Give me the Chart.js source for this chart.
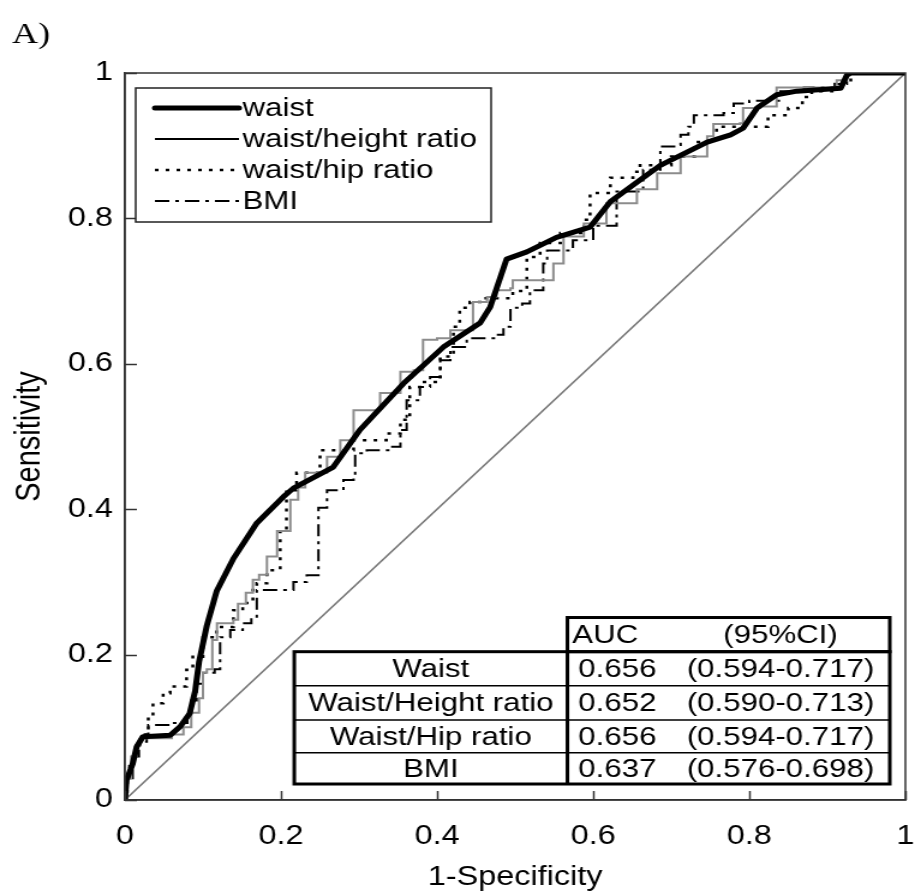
<!DOCTYPE html>
<html>
<head>
<meta charset="utf-8">
<title>ROC curves</title>
<script src="https://cdn.jsdelivr.net/npm/chart.js@4.4.1/dist/chart.umd.min.js"></script>
<style>
    html, body { margin: 0; padding: 0; background: #ffffff; }
    #rocChart { display: block; width: 915px !important; height: 894px !important; }
</style>
</head>
<body>
<canvas id="rocChart" width="762" height="894" style="width:915px;height:894px"></canvas>
<script>
// tick labels
const xTickLabels = ['0', '0.2', '0.4', '0.6', '0.8', '1'];
const yTickLabels = ['0', '0.2', '0.4', '0.6', '0.8', '1'];

// waist (thick line)
const waistFpr = [0, 0.002, 0.01, 0.015, 0.023, 0.058, 0.071, 0.083, 0.09, 0.095, 0.105, 0.1175, 0.139, 0.169, 0.203, 0.216, 0.267, 0.301, 0.357, 0.408, 0.455, 0.468, 0.489, 0.515, 0.553, 0.596, 0.622, 0.669, 0.686, 0.746, 0.776, 0.792, 0.81, 0.835, 0.861, 0.917, 0.925, 0.93, 1];
const waistSens = [0, 0.027, 0.05, 0.073, 0.087, 0.089, 0.101, 0.119, 0.15, 0.19, 0.24, 0.287, 0.332, 0.381, 0.417, 0.429, 0.458, 0.509, 0.573, 0.623, 0.656, 0.678, 0.744, 0.754, 0.774, 0.788, 0.823, 0.86, 0.873, 0.905, 0.915, 0.924, 0.952, 0.97, 0.975, 0.979, 0.997, 1, 1];

// waist/height ratio (grey steps)
const whtrFpr = [0, 0.003, 0.008, 0.015, 0.02, 0.06, 0.075, 0.085, 0.095, 0.1, 0.105, 0.112, 0.118, 0.139, 0.145, 0.155, 0.164, 0.172, 0.182, 0.195, 0.212, 0.222, 0.231, 0.259, 0.276, 0.293, 0.327, 0.353, 0.37, 0.382, 0.4, 0.417, 0.446, 0.464, 0.476, 0.494, 0.497, 0.549, 0.549, 0.562, 0.562, 0.588, 0.617, 0.656, 0.682, 0.682, 0.712, 0.737, 0.746, 0.754, 0.788, 0.792, 0.814, 0.835, 0.835, 0.904, 0.912, 0.925, 1];
const whtrSens = [0, 0.03, 0.06, 0.075, 0.085, 0.09, 0.1, 0.12, 0.14, 0.175, 0.18, 0.22, 0.243, 0.248, 0.27, 0.285, 0.303, 0.31, 0.335, 0.37, 0.413, 0.43, 0.45, 0.472, 0.495, 0.536, 0.56, 0.589, 0.591, 0.633, 0.635, 0.646, 0.685, 0.692, 0.701, 0.704, 0.715, 0.718, 0.738, 0.752, 0.775, 0.793, 0.821, 0.84, 0.85, 0.862, 0.885, 0.885, 0.913, 0.93, 0.931, 0.952, 0.954, 0.97, 0.98, 0.98, 0.99, 1, 1];

// waist/hip ratio (dotted)
const whrFpr = [0, 0.003, 0.006, 0.015, 0.02, 0.03, 0.036, 0.049, 0.058, 0.075, 0.079, 0.087, 0.1, 0.1175, 0.139, 0.151, 0.164, 0.169, 0.182, 0.199, 0.207, 0.22, 0.25, 0.267, 0.293, 0.335, 0.353, 0.365, 0.378, 0.404, 0.421, 0.429, 0.442, 0.455, 0.497, 0.515, 0.515, 0.532, 0.558, 0.588, 0.596, 0.622, 0.651, 0.66, 0.7, 0.73, 0.758, 0.788, 0.824, 0.844, 0.85, 0.865, 0.868, 0.88, 0.91, 0.92, 0.93, 1];
const whrSens = [0, 0.03, 0.055, 0.075, 0.09, 0.115, 0.133, 0.147, 0.156, 0.156, 0.179, 0.197, 0.224, 0.238, 0.261, 0.271, 0.289, 0.298, 0.316, 0.371, 0.426, 0.45, 0.481, 0.481, 0.495, 0.504, 0.523, 0.568, 0.575, 0.61, 0.651, 0.677, 0.685, 0.69, 0.7, 0.711, 0.747, 0.766, 0.78, 0.798, 0.835, 0.856, 0.864, 0.873, 0.885, 0.905, 0.926, 0.926, 0.942, 0.942, 0.952, 0.952, 0.967, 0.975, 0.985, 0.99, 1, 1];

// BMI (dash-dot)
const bmiFpr = [0, 0.003, 0.01, 0.018, 0.028, 0.03, 0.06, 0.08, 0.085, 0.092, 0.1, 0.115, 0.122, 0.135, 0.151, 0.162, 0.169, 0.194, 0.216, 0.233, 0.248, 0.248, 0.259, 0.28, 0.293, 0.295, 0.31, 0.34, 0.353, 0.361, 0.378, 0.391, 0.404, 0.417, 0.438, 0.478, 0.485, 0.494, 0.509, 0.519, 0.536, 0.536, 0.541, 0.574, 0.6, 0.63, 0.664, 0.686, 0.686, 0.707, 0.712, 0.722, 0.729, 0.758, 0.767, 0.78, 0.8, 0.84, 0.87, 0.91, 0.925, 1];
const bmiSens = [0, 0.03, 0.06, 0.08, 0.09, 0.103, 0.106, 0.12, 0.137, 0.16, 0.175, 0.18, 0.224, 0.234, 0.243, 0.252, 0.289, 0.289, 0.3, 0.309, 0.309, 0.402, 0.426, 0.44, 0.447, 0.477, 0.481, 0.486, 0.509, 0.55, 0.568, 0.582, 0.605, 0.623, 0.635, 0.64, 0.651, 0.677, 0.683, 0.701, 0.715, 0.738, 0.756, 0.77, 0.79, 0.837, 0.867, 0.887, 0.899, 0.901, 0.915, 0.926, 0.942, 0.942, 0.945, 0.958, 0.962, 0.975, 0.98, 0.985, 1, 1];

// reference diagonal
const chanceFpr = [0, 1];
const chanceSens = [0, 1];

// AUC table
const tableRows = ['Waist', 'Waist/Height ratio', 'Waist/Hip ratio', 'BMI'];
const tableAuc = ['0.656', '0.652', '0.656', '0.637'];
const tableCi = ['(0.594-0.717)', '(0.590-0.713)', '(0.594-0.717)', '(0.576-0.698)'];

const legendLabels = ['waist', 'waist/height ratio', 'waist/hip ratio', 'BMI'];

function toPoints(xs, ys) {
    return xs.map((v, i) => ({ x: v, y: ys[i] }));
}

const FONT = '"Liberation Sans", Arial, sans-serif';

const rocDecor = {
    id: 'rocDecor',
    afterDatasetsDraw(chart) {
        const { ctx, chartArea: a, scales } = chart;
        const xs = scales.x, ys = scales.y;
        ctx.save();

        // frame
        ctx.strokeStyle = '#333333';
        ctx.lineWidth = 1.5;
        ctx.strokeRect(a.left, a.top, a.right - a.left, a.bottom - a.top);

        // inward ticks
        ctx.beginPath();
        xs.ticks.forEach(t => {
            const px = Math.round(xs.getPixelForValue(t.value)) + 0.5;
            ctx.moveTo(px, a.bottom);
            ctx.lineTo(px, a.bottom - 9);
        });
        ys.ticks.forEach(t => {
            const py = Math.round(ys.getPixelForValue(t.value)) + 0.5;
            ctx.moveTo(a.left, py);
            ctx.lineTo(a.left + 10, py);
        });
        ctx.stroke();

        // legend
        const lx = a.left + 9, ly = a.top + 15, lw = 296, lh = 134;
        ctx.fillStyle = '#ffffff';
        ctx.fillRect(lx, ly, lw, lh);
        ctx.strokeStyle = '#222222';
        ctx.lineWidth = 1.5;
        ctx.strokeRect(lx, ly, lw, lh);
        ctx.font = '26px ' + FONT;
        ctx.textBaseline = 'middle';
        ctx.textAlign = 'left';
        chart.data.datasets.slice(0, 4).forEach((ds, i) => {
            const ry = ly + 20 + i * 31;
            ctx.save();
            ctx.strokeStyle = '#000000';
            ctx.lineWidth = ds.borderWidth;
            ctx.lineCap = i === 0 ? 'round' : 'butt';
            ctx.setLineDash(ds.borderDash || []);
            ctx.beginPath();
            ctx.moveTo(lx + 16, ry);
            ctx.lineTo(lx + 86, ry);
            ctx.stroke();
            ctx.restore();
            ctx.fillStyle = '#000000';
            ctx.fillText(legendLabels[i], lx + 89, ry + 1);
        });

        // AUC table
        const tl = xs.getPixelForValue(0.217);
        const tm = xs.getPixelForValue(0.567);
        const tr = xs.getPixelForValue(0.98);
        const rowY = [0.251, 0.204, 0.157, 0.11, 0.065, 0.022].map(v => ys.getPixelForValue(v));
        ctx.fillStyle = '#ffffff';
        ctx.fillRect(tm, rowY[0], tr - tm, rowY[1] - rowY[0]);
        ctx.fillRect(tl, rowY[1], tr - tl, rowY[5] - rowY[1]);
        ctx.strokeStyle = '#000000';
        ctx.lineWidth = 3;
        ctx.strokeRect(tm, rowY[0], tr - tm, rowY[1] - rowY[0]);
        ctx.strokeRect(tl, rowY[1], tr - tl, rowY[5] - rowY[1]);
        ctx.beginPath();
        ctx.moveTo(tm, rowY[1]);
        ctx.lineTo(tm, rowY[5]);
        ctx.stroke();
        ctx.lineWidth = 1.5;
        ctx.beginPath();
        for (let k = 2; k < 5; k++) {
            ctx.moveTo(tl, rowY[k]);
            ctx.lineTo(tr, rowY[k]);
        }
        ctx.stroke();

        ctx.fillStyle = '#000000';
        ctx.font = '26px ' + FONT;
        ctx.textBaseline = 'middle';
        const ciCenter = xs.getPixelForValue(0.84);
        ctx.textAlign = 'left';
        ctx.fillText('AUC', tm + 4, (rowY[0] + rowY[1]) / 2 + 1);
        ctx.textAlign = 'center';
        ctx.fillText('(95%CI)', ciCenter, (rowY[0] + rowY[1]) / 2 + 1);
        tableRows.forEach((name, i) => {
            const cy = (rowY[i + 1] + rowY[i + 2]) / 2 + 1;
            ctx.textAlign = 'center';
            ctx.fillText(name, (tl + tm) / 2, cy);
            ctx.textAlign = 'left';
            ctx.fillText(tableAuc[i], tm + 9, cy);
            ctx.textAlign = 'center';
            ctx.fillText(tableCi[i], ciCenter, cy);
        });

        // panel label
        ctx.font = '30px "Liberation Serif", "Times New Roman", serif';
        ctx.textAlign = 'left';
        ctx.textBaseline = 'alphabetic';
        ctx.fillText('A)', 10, 43);

        ctx.restore();
    }
};

const ctx = document.getElementById('rocChart').getContext('2d');
new Chart(ctx, {
    type: 'line',
    data: {
        datasets: [{
            label: 'waist',
            data: toPoints(waistFpr, waistSens),
            borderColor: '#000000',
            borderWidth: 5,
            borderJoinStyle: 'round',
            pointRadius: 0,
            tension: 0
        }, {
            label: 'waist/height ratio',
            data: toPoints(whtrFpr, whtrSens),
            borderColor: '#8c8c8c',
            borderWidth: 2,
            pointRadius: 0,
            stepped: true
        }, {
            label: 'waist/hip ratio',
            data: toPoints(whrFpr, whrSens),
            borderColor: '#000000',
            borderWidth: 2.5,
            borderDash: [3, 6],
            pointRadius: 0,
            stepped: true
        }, {
            label: 'BMI',
            data: toPoints(bmiFpr, bmiSens),
            borderColor: '#000000',
            borderWidth: 2,
            borderDash: [12, 5, 3, 5],
            pointRadius: 0,
            stepped: true
        }, {
            label: 'chance',
            data: toPoints(chanceFpr, chanceSens),
            borderColor: '#777777',
            borderWidth: 1.5,
            pointRadius: 0
        }]
    },
    options: {
        responsive: false,
        animation: false,
        devicePixelRatio: 1,
        layout: { autoPadding: false, padding: { top: 73, right: 8, left: 0, bottom: 0 } },
        plugins: {
            legend: { display: false },
            tooltip: { enabled: false }
        },
        scales: {
            x: {
                type: 'linear',
                min: 0,
                max: 1,
                afterFit: scale => {
                    scale.height = 94;
                    scale.paddingLeft = 0;
                    scale.paddingRight = 0;
                },
                grid: { display: false, drawTicks: false },
                border: { display: true, color: '#333333', width: 1.5 },
                ticks: {
                    stepSize: 0.2,
                    padding: 20,
                    color: '#000000',
                    font: { family: FONT, size: 27 },
                    maxRotation: 0,
                    callback: (v, i) => xTickLabels[i]
                },
                title: {
                    display: true,
                    text: '1-Specificity',
                    color: '#000000',
                    font: { family: FONT, size: 27 },
                    padding: { top: 0, bottom: 0 }
                }
            },
            y: {
                type: 'linear',
                min: 0,
                max: 1,
                afterFit: scale => {
                    scale.width = 104;
                    scale.paddingTop = 0;
                    scale.paddingBottom = 0;
                },
                grid: { display: false, drawTicks: false },
                border: { display: true, color: '#333333', width: 1.5 },
                ticks: {
                    stepSize: 0.2,
                    padding: 10,
                    color: '#000000',
                    font: { family: FONT, size: 27 },
                    callback: (v, i) => yTickLabels[i]
                },
                title: {
                    display: true,
                    text: 'Sensitivity',
                    color: '#000000',
                    font: { family: FONT, size: 29 },
                    padding: { top: 8, bottom: 0 }
                }
            }
        }
    },
    plugins: [rocDecor]
});
</script>
</body>
</html>
